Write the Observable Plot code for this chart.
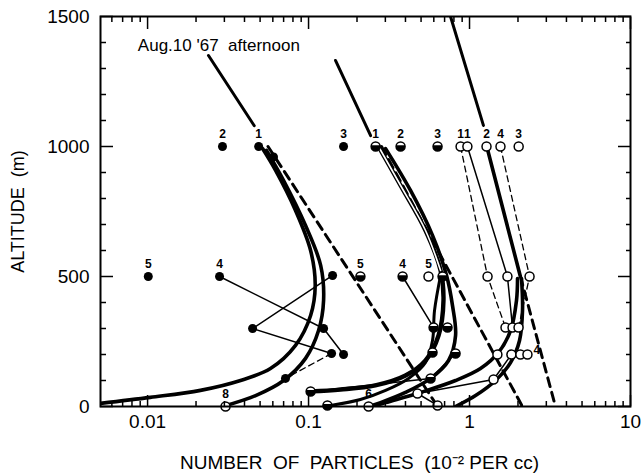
<!DOCTYPE html>
<html><head><meta charset="utf-8">
<script src="https://cdn.jsdelivr.net/npm/d3@7"></script>
<script src="https://cdn.jsdelivr.net/npm/@observablehq/plot@0.6"></script>
<style>body{margin:0;background:#fff}</style>
</head><body><div id="chart"></div>
<script>
// ---- tick labels ----
const xTickLabels = [0.01, 0.1, 1, 10];
const xMinorTicks = [0.006,0.007,0.008,0.009,0.02,0.03,0.04,0.05,0.06,0.07,0.08,0.09,0.2,0.3,0.4,0.5,0.6,0.7,0.8,0.9,2,3,4,5,6,7,8,9];
const yTickLabels = [0, 500, 1000, 1500];
const yMinorTicks = [100,200,300,400,600,700,800,900,1100,1200,1300,1400];

// ---- measured points: [particles (10^-2/cc), altitude m, label] ----
const filledPoints = [[0.0292,1000,"2"],[0.049,1000,"1"],[0.165,1000,"3"],[0.0101,500,"5"],[0.028,500,"4"],
  [0.0606,960,""],[0.141,504,""],[0.0449,300,""],[0.124,300,""],[0.139,204,""],[0.165,200,""],[0.0719,108,""]];
const halfPoints = [[0.261,1000,"1"],[0.373,1000,"2"],[0.633,1000,"3"],[0.21,500,"5"],[0.384,500,"4"],[0.68,500,""],
  [0.598,304,""],[0.73,304,""],[0.589,208,""],[0.819,204,""],[0.573,108,""],[0.103,58,""],[0.131,4,""]];
const openPoints = [[0.556,500,"5"],[0.475,50,""],[0.633,4,""],[0.0305,0,"8"],[0.236,0,"6"],
  [0.88,1000,"1"],[0.97,1000,"1"],[1.275,1000,"2"],[1.557,1000,"4"],[2.02,1000,"3"],
  [1.294,500,""],[1.72,500,""],[2.36,500,""],[1.673,304,""],[1.85,304,""],[2.016,304,""],
  [1.49,200,""],[1.82,200,""],[2.07,200,""],[2.29,200,""],[1.41,104,""]];
const extraLabels = [[2.62,200,"4"]];

// ---- thick profile curves ----
const filledCurveOuter = [[0.0051,12],[0.0104,35],[0.0213,62],[0.0378,100],[0.058,146],[0.083,235],[0.103,350],[0.110,465],[0.103,600],[0.083,754],[0.0624,908],[0.0518,992]];
const filledCurveInner = [[0.0292,0],[0.0469,42],[0.070,100],[0.0958,185],[0.1154,292],[0.124,408],[0.119,542],[0.0958,696],[0.070,869],[0.0548,985]];
const midCurveA = [[0.272,1000],[0.373,850],[0.533,677],[0.661,523],[0.689,408],[0.642,273],[0.533,177],[0.40,119],[0.26,81],[0.158,65],[0.103,58]];
const midCurveB = [[0.301,992],[0.430,831],[0.589,658],[0.720,504],[0.784,388],[0.819,273],[0.741,177],[0.573,108],[0.40,54],[0.280,15],[0.236,0]];
const midCurveC = [[0.661,504],[0.606,369],[0.589,254],[0.533,169],[0.418,108],[0.301,62],[0.21,27],[0.137,4]];
const openCurveA = [[1.987,492],[1.958,408],[1.798,292],[1.514,208],[1.17,146],[0.819,100],[0.496,54],[0.301,15],[0.25,0]];
const openCurveB = [[2.104,492],[2.134,369],[2.045,254],[1.798,169],[1.45,100],[1.09,42],[0.819,0]];

// ---- straight (exponential) fits ----
const fitAUpper = [[0.0239,1350],[0.046,1080]];
const fitALower = [[0.056,1000],[0.633,0]];
const fitBUpper = [[0.147,1331],[0.243,1042]];
const fitBLower = [[0.284,1000],[2.13,0]];
const fitCUpper = [[0.762,1500],[1.22,1081]];
const fitCMid = [[1.28,1000],[2.07,500]];
const fitCLower = [[2.07,500],[3.42,0]];

// ---- thin connecting lines ----
const thinSolid = [
  [[0.028,500],[0.124,300],[0.165,200]],
  [[0.141,504],[0.0449,300],[0.139,204]],
  [[0.384,500],[0.598,304]],
  [[0.819,204],[0.573,108]],
  [[0.475,50],[0.633,4]],
  [[0.475,50],[1.41,104]],
  [[0.103,58],[0.573,108]],
  [[0.97,1000],[1.72,500],[1.85,304]],
  [[1.82,200],[1.41,104]]
];
const thinDashed = [
  [[0.139,204],[0.0719,108]],
  [[0.88,1000],[1.294,500],[1.673,304]],
  [[1.557,1000],[2.36,500],[2.016,304]]
];

const annotation = [[0.0087,1390,"Aug.10 '67  afternoon"]];

const halfSymbol = {
  draw(context, size) {
    const r = Math.sqrt(size / Math.PI);
    context.moveTo(r * Math.cos(-0.3), r * Math.sin(-0.3));
    context.arc(0, 0, r, -0.3, Math.PI + 0.3);
    context.closePath();
  }
};

const X = d => d[0], Y = d => d[1];
const thick = (arr, w = 3.6) => Plot.line(arr, {x: X, y: Y, curve: "catmull-rom", stroke: "black", strokeWidth: w, clip: true});
const font = "'Liberation Sans', Arial, sans-serif";

const marks = [
  Plot.line(fitAUpper, {x: X, y: Y, stroke: "black", strokeWidth: 3, clip: true}),
  Plot.line(fitALower, {x: X, y: Y, stroke: "black", strokeWidth: 3, strokeDasharray: "9,6", clip: true}),
  Plot.line(fitBUpper, {x: X, y: Y, stroke: "black", strokeWidth: 3, clip: true}),
  Plot.line(fitBLower, {x: X, y: Y, stroke: "black", strokeWidth: 3, strokeDasharray: "9,6", clip: true}),
  Plot.line(fitCUpper, {x: X, y: Y, stroke: "black", strokeWidth: 3, clip: true}),
  Plot.line(fitCMid, {x: X, y: Y, stroke: "black", strokeWidth: 3.6, clip: true}),
  Plot.line(fitCLower, {x: X, y: Y, stroke: "black", strokeWidth: 3, strokeDasharray: "9,6", clip: true}),
  thick(filledCurveOuter), thick(filledCurveInner),
  thick(midCurveA, 4.4), thick(midCurveB), thick(midCurveC, 3),
  Plot.line(midCurveA.slice(0, 4), {x: X, y: Y, curve: "catmull-rom", stroke: "white", strokeWidth: 1.6}),
  thick(openCurveA), thick(openCurveB),
  ...thinSolid.map(a => Plot.line(a, {x: X, y: Y, stroke: "black", strokeWidth: 1.5})),
  ...thinDashed.map(a => Plot.line(a, {x: X, y: Y, stroke: "black", strokeWidth: 1.3, strokeDasharray: "6,4"})),
  Plot.dot(filledPoints, {x: X, y: Y, r: 4.5, fill: "black"}),
  Plot.dot(halfPoints, {x: X, y: Y, r: 4.5, fill: "white", stroke: "black", strokeWidth: 1.5}),
  Plot.dot(halfPoints, {x: X, y: Y, r: 4.6, symbol: halfSymbol, fill: "black"}),
  Plot.dot(openPoints, {x: X, y: Y, r: 4.5, fill: "white", stroke: "black", strokeWidth: 1.5}),
  Plot.text([...filledPoints, ...halfPoints, ...openPoints].filter(d => d[2]), {x: X, y: Y, text: d => d[2], dy: -12, fontSize: 12, fontWeight: "bold", fontFamily: font}),
  Plot.text(extraLabels, {x: X, y: Y, text: d => d[2], dy: -4, fontSize: 12, fontWeight: "bold", fontFamily: font}),
  Plot.text(annotation, {x: X, y: Y, text: d => d[2], textAnchor: "start", fontSize: 17, fontFamily: font, style: "white-space:pre"}),
  // ticks (inward)
  Plot.axisX(xMinorTicks, {anchor: "bottom", tickSize: -5, tickFormat: () => "", label: null, strokeWidth: 1.5}),
  Plot.axisX(xMinorTicks, {anchor: "top", tickSize: -5, tickFormat: () => "", label: null, strokeWidth: 1.5}),
  Plot.axisX(xTickLabels, {anchor: "bottom", tickSize: -11, tickFormat: () => "", label: null, strokeWidth: 1.5}),
  Plot.axisX(xTickLabels, {anchor: "top", tickSize: -12, tickFormat: () => "", label: null, strokeWidth: 1.5}),
  Plot.axisY(yMinorTicks, {anchor: "left", tickSize: -6, tickFormat: () => "", label: null, strokeWidth: 1.5}),
  Plot.axisY(yMinorTicks, {anchor: "right", tickSize: -5, tickFormat: () => "", label: null, strokeWidth: 1.5}),
  Plot.axisY(yTickLabels, {anchor: "left", tickSize: -13, tickFormat: () => "", label: null, strokeWidth: 1.5}),
  Plot.axisY(yTickLabels, {anchor: "right", tickSize: -13, tickFormat: () => "", label: null, strokeWidth: 1.5}),
  // tick labels
  Plot.axisX(xTickLabels, {anchor: "bottom", tickSize: 0, tickPadding: 8, tickFormat: d => String(d), label: null, fontSize: 19, fontFamily: font}),
  Plot.axisY(yTickLabels, {anchor: "left", tickSize: 0, tickPadding: 11, tickFormat: d => String(d), label: null, fontSize: 19, fontFamily: font}),
  Plot.text(["NUMBER  OF  PARTICLES  (10\u207B\u00B2 PER cc)"], {frameAnchor: "bottom", dy: 62, dx: -6, fontSize: 19, fontFamily: font, style: "white-space:pre"}),
  Plot.text(["ALTITUDE  (m)"], {frameAnchor: "left", textAnchor: "middle", dx: -82, rotate: -90, fontSize: 18, fontFamily: font, style: "white-space:pre"}),
  Plot.frame({stroke: "black", strokeWidth: 2})
];

const chart = Plot.plot({
  width: 641, height: 476,
  marginLeft: 100, marginRight: 11, marginTop: 16, marginBottom: 70,
  x: {type: "log", domain: [0.0051, 10]},
  y: {domain: [0, 1500]},
  style: {fontFamily: font, color: "black", background: "white"},
  marks
});
document.getElementById("chart").appendChild(chart);
</script>
</body></html>
